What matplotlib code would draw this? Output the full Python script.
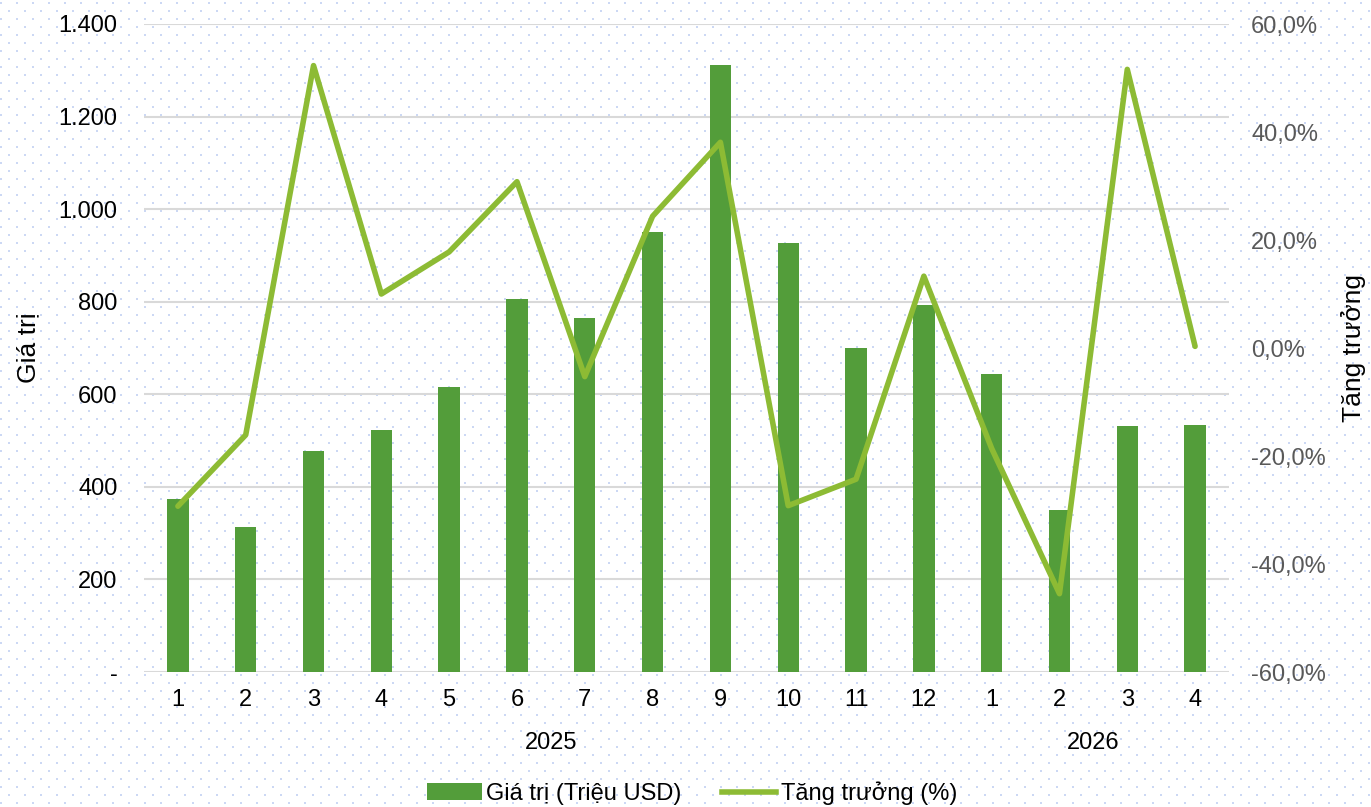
import matplotlib
matplotlib.use('Agg')
import matplotlib.pyplot as plt
import numpy as np
from matplotlib.ticker import FuncFormatter, MultipleLocator
from matplotlib.lines import Line2D
from matplotlib.patches import Patch

plt.rcParams['font.family'] = ['Liberation Sans', 'DejaVu Sans']

months = ['1', '2', '3', '4', '5', '6', '7', '8', '9', '10', '11', '12', '1', '2', '3', '4']
years = ['2025'] * 12 + ['2026'] * 4
values = [374, 314, 477, 523, 616, 806, 765, 950, 1312, 927, 701, 793, 644, 350, 532, 534]
growth = [-29.3, -16.1, 52.3, 10.0, 17.8, 30.8, -5.3, 24.4, 38.1, -29.2, -24.3, 13.3,
          -18.6, -45.5, 51.6, 0.3]

BAR_COLOR = '#539D3A'
LINE_COLOR = '#8DBB34'
GRID_COLOR = '#D9D9D9'
FS = 17
TITLE_FS = 19

W, H = 1371, 807
fig = plt.figure(figsize=(W / 100, H / 100), dpi=100)

# dotted paper background
bg = np.ones((H, W, 3))
dot = np.array([0.80, 0.85, 0.96])
for r in range(2, H, 8):
    off = 8 if (r // 8) % 2 else 0
    for dr in range(2):
        if r + dr < H:
            for c0 in range(off, off + 2):
                bg[r + dr, c0::16] = dot
bg_ax = fig.add_axes([0, 0, 1, 1], zorder=-10)
bg_ax.imshow(bg, aspect='auto', interpolation='nearest')
bg_ax.axis('off')

ax = fig.add_axes([144 / W, 1 - 672 / H, (1229 - 144) / W, 648 / H])
ax.patch.set_visible(False)
x = np.arange(len(values))
ax.bar(x, values, width=0.315, color=BAR_COLOR, zorder=2)
ax.set_xlim(-0.5, len(values) - 0.5)
ax.set_ylim(0, 1400)
ax.yaxis.set_major_locator(MultipleLocator(200))
ax.yaxis.set_major_formatter(FuncFormatter(
    lambda v, p: '-' if v == 0 else '{:,.0f}'.format(v).replace(',', '.')))
ax.grid(axis='y', color=GRID_COLOR, lw=1.5)
ax.set_axisbelow(True)
ax.set_xticks(x)
ax.set_xticklabels(months)
ax.tick_params(axis='both', length=0, labelsize=FS, colors='black')
ax.tick_params(axis='x', pad=12)
ax.tick_params(axis='y', pad=19)
for s in ax.spines.values():
    s.set_visible(False)

ax2 = ax.twinx()
ax2.patch.set_visible(False)
ax2.plot(x, growth, color=LINE_COLOR, lw=4, solid_capstyle='round', solid_joinstyle='round')
ax2.set_ylim(-60, 60)
ax2.yaxis.set_major_locator(MultipleLocator(20))
ax2.yaxis.set_major_formatter(FuncFormatter(lambda v, p: '{:.1f}%'.format(v).replace('.', ',')))
ax2.tick_params(axis='y', length=0, labelsize=FS, labelcolor='#595959', pad=16)
for s in ax2.spines.values():
    s.set_visible(False)

# year group labels
for yr in ['2025', '2026']:
    idx = [i for i, y in enumerate(years) if y == yr]
    ax.text(np.mean(idx), -0.11, yr, transform=ax.get_xaxis_transform(),
            ha='center', va='center', fontsize=FS)

fig.text(28 / W, 1 - 348 / H, 'Giá trị', rotation=90, ha='center', va='center', fontsize=TITLE_FS)
fig.text(1353 / W, 1 - 348 / H, 'Tăng trưởng', rotation=90, ha='center', va='center',
         fontsize=TITLE_FS)

handles = [Patch(facecolor=BAR_COLOR), Line2D([], [], color=LINE_COLOR, lw=4)]
fig.legend(handles, ['Giá trị (Triệu USD)', 'Tăng trưởng (%)'], loc='center',
           bbox_to_anchor=(0.505, 1 - 793 / H), ncol=2, frameon=False, fontsize=FS,
           handlelength=2.3, handletextpad=0.2, columnspacing=1.7)

fig.savefig('out.png', dpi=100)
